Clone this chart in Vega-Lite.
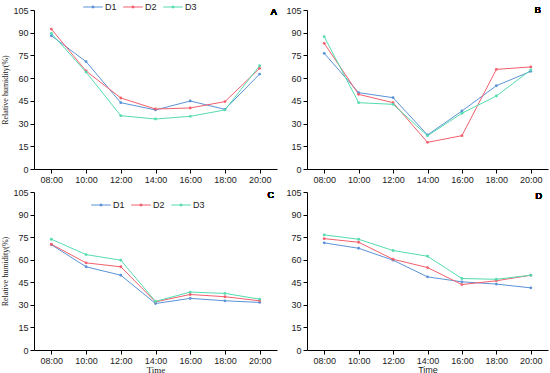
{
  "$schema": "https://vega.github.io/schema/vega-lite/v6.json",
  "padding": {"left": 1, "top": 0, "right": 2, "bottom": 0},
  "background": "white",
  "config": {
    "view": {"stroke": null},
    "font": "Liberation Sans",
    "axis": {"domainColor": "#000", "tickColor": "#000", "labelColor": "#222", "labelFontSize": 9, "grid": false, "tickSize": 4, "labelPadding": 2, "titleFontWeight": "normal", "titleFontSize": 8, "titleColor": "#222", "labelFont": "Liberation Sans", "titleFont": "Liberation Serif"},
    "legend": {"labelFontSize": 9, "labelColor": "#222", "labelFont": "Liberation Sans"}
  },
  "data": {"values": [
    {"p":"A","t":"08:00","s":"D1","v":88},{"p":"A","t":"10:00","s":"D1","v":70.9},{"p":"A","t":"12:00","s":"D1","v":43.8},{"p":"A","t":"14:00","s":"D1","v":39},{"p":"A","t":"16:00","s":"D1","v":44.9},{"p":"A","t":"18:00","s":"D1","v":39.4},{"p":"A","t":"20:00","s":"D1","v":62.7},
    {"p":"A","t":"08:00","s":"D2","v":92.4},{"p":"A","t":"10:00","s":"D2","v":64.7},{"p":"A","t":"12:00","s":"D2","v":46.9},{"p":"A","t":"14:00","s":"D2","v":39.6},{"p":"A","t":"16:00","s":"D2","v":40.3},{"p":"A","t":"18:00","s":"D2","v":44.5},{"p":"A","t":"20:00","s":"D2","v":66.5},
    {"p":"A","t":"08:00","s":"D3","v":89.6},{"p":"A","t":"10:00","s":"D3","v":64},{"p":"A","t":"12:00","s":"D3","v":35.2},{"p":"A","t":"14:00","s":"D3","v":33},{"p":"A","t":"16:00","s":"D3","v":34.8},{"p":"A","t":"18:00","s":"D3","v":39},{"p":"A","t":"20:00","s":"D3","v":68.2},
    {"p":"B","t":"08:00","s":"D1","v":76.4},{"p":"B","t":"10:00","s":"D1","v":50.4},{"p":"B","t":"12:00","s":"D1","v":47.1},{"p":"B","t":"14:00","s":"D1","v":22.5},{"p":"B","t":"16:00","s":"D1","v":38.3},{"p":"B","t":"18:00","s":"D1","v":55},{"p":"B","t":"20:00","s":"D1","v":64.5},
    {"p":"B","t":"08:00","s":"D2","v":83},{"p":"B","t":"10:00","s":"D2","v":49.3},{"p":"B","t":"12:00","s":"D2","v":43.8},{"p":"B","t":"14:00","s":"D2","v":17.6},{"p":"B","t":"16:00","s":"D2","v":22},{"p":"B","t":"18:00","s":"D2","v":65.8},{"p":"B","t":"20:00","s":"D2","v":67.4},
    {"p":"B","t":"08:00","s":"D3","v":87.4},{"p":"B","t":"10:00","s":"D3","v":43.8},{"p":"B","t":"12:00","s":"D3","v":42.7},{"p":"B","t":"14:00","s":"D3","v":22},{"p":"B","t":"16:00","s":"D3","v":36.8},{"p":"B","t":"18:00","s":"D3","v":48.2},{"p":"B","t":"20:00","s":"D3","v":65.4},
    {"p":"C","t":"08:00","s":"D1","v":70},{"p":"C","t":"10:00","s":"D1","v":55.3},{"p":"C","t":"12:00","s":"D1","v":49.7},{"p":"C","t":"14:00","s":"D1","v":30.9},{"p":"C","t":"16:00","s":"D1","v":34.3},{"p":"C","t":"18:00","s":"D1","v":32.7},{"p":"C","t":"20:00","s":"D1","v":31.6},
    {"p":"C","t":"08:00","s":"D2","v":70.3},{"p":"C","t":"10:00","s":"D2","v":57.9},{"p":"C","t":"12:00","s":"D2","v":55.3},{"p":"C","t":"14:00","s":"D2","v":32},{"p":"C","t":"16:00","s":"D2","v":36.9},{"p":"C","t":"18:00","s":"D2","v":35.4},{"p":"C","t":"20:00","s":"D2","v":32.7},
    {"p":"C","t":"08:00","s":"D3","v":73.6},{"p":"C","t":"10:00","s":"D3","v":63.4},{"p":"C","t":"12:00","s":"D3","v":59.7},{"p":"C","t":"14:00","s":"D3","v":32.3},{"p":"C","t":"16:00","s":"D3","v":38.5},{"p":"C","t":"18:00","s":"D3","v":37.6},{"p":"C","t":"20:00","s":"D3","v":33.8},
    {"p":"D","t":"08:00","s":"D1","v":71.2},{"p":"D","t":"10:00","s":"D1","v":67.6},{"p":"D","t":"12:00","s":"D1","v":59.7},{"p":"D","t":"14:00","s":"D1","v":48.6},{"p":"D","t":"16:00","s":"D1","v":45.3},{"p":"D","t":"18:00","s":"D1","v":43.8},{"p":"D","t":"20:00","s":"D1","v":41.3},
    {"p":"D","t":"08:00","s":"D2","v":74},{"p":"D","t":"10:00","s":"D2","v":71.6},{"p":"D","t":"12:00","s":"D2","v":60.3},{"p":"D","t":"14:00","s":"D2","v":54.8},{"p":"D","t":"16:00","s":"D2","v":43.5},{"p":"D","t":"18:00","s":"D2","v":46},{"p":"D","t":"20:00","s":"D2","v":49.7},
    {"p":"D","t":"08:00","s":"D3","v":76.5},{"p":"D","t":"10:00","s":"D3","v":73.6},{"p":"D","t":"12:00","s":"D3","v":66.1},{"p":"D","t":"14:00","s":"D3","v":62.3},{"p":"D","t":"16:00","s":"D3","v":47.5},{"p":"D","t":"18:00","s":"D3","v":47},{"p":"D","t":"20:00","s":"D3","v":49.7}
  ]},
  "columns": 2,
  "bounds": "flush",
  "spacing": {"row": 23, "column": 30},
  "resolve": {"legend": {"color": "independent"}},
  "concat": [
    {
      "width": 243, "height": 159,
      "transform": [{"filter": "datum.p === 'A'"}],
      "encoding": {
        "x": {"field": "t", "type": "ordinal", "scale": {"type": "point", "padding": 0.5}, "axis": {"title": null, "labelAngle": 0}},
        "y": {"field": "v", "type": "quantitative", "scale": {"domain": [0, 105], "nice": false}, "axis": {"values": [0,15,30,45,60,75,90,105], "title": "Relative humidity(%)", "titlePadding": 3}}
      },
      "layer": [
        {
          "mark": {"type": "line", "point": {"filled": true, "size": 8}, "strokeWidth": 1},
          "encoding": {
            "color": {"field": "s", "type": "nominal", "scale": {"domain": ["D1","D2","D3"], "range": ["#5b93d8","#f2606c","#55dbb0"]},
              "legend": {"title": null, "orient": "none", "direction": "horizontal", "legendX": 52, "legendY": -10, "symbolType": "M-1.6,0L1.6,0M-0.18,0A0.18,0.18 0 1,0 0.18,0A0.18,0.18 0 1,0 -0.18,0", "symbolSize": 150, "symbolStrokeWidth": 1, "columnPadding": 4, "labelOffset": 5}}
          }
        },
        {
          "mark": {"type": "text", "text": "A", "dx": 14, "dy": 2, "font": "Liberation Sans", "fontSize": 9, "fontWeight": "normal", "color": "#000", "baseline": "middle", "align": "center"},
          "encoding": {"x": {"datum": "20:00"}, "y": {"datum": 105}}
        }
      ]
    },
    {
      "width": 241, "height": 159,
      "transform": [{"filter": "datum.p === 'B'"}],
      "encoding": {
        "x": {"field": "t", "type": "ordinal", "scale": {"type": "point", "padding": 0.5}, "axis": {"title": null, "labelAngle": 0}},
        "y": {"field": "v", "type": "quantitative", "scale": {"domain": [0, 105], "nice": false}, "axis": {"values": [0,15,30,45,60,75,90,105], "title": null}}
      },
      "layer": [
        {
          "mark": {"type": "line", "point": {"filled": true, "size": 8}, "strokeWidth": 1},
          "encoding": {"color": {"field": "s", "type": "nominal", "legend": null}}
        },
        {
          "mark": {"type": "text", "text": "B", "dx": 7, "dy": 0, "font": "Liberation Sans", "fontSize": 9, "fontWeight": "normal", "color": "#000", "baseline": "middle", "align": "center"},
          "encoding": {"x": {"datum": "20:00"}, "y": {"datum": 105}}
        }
      ]
    },
    {
      "width": 243, "height": 158,
      "transform": [{"filter": "datum.p === 'C'"}],
      "encoding": {
        "x": {"field": "t", "type": "ordinal", "scale": {"type": "point", "padding": 0.5}, "axis": {"title": "Time", "labelAngle": 0, "titleFontSize": 9, "titlePadding": 0}},
        "y": {"field": "v", "type": "quantitative", "scale": {"domain": [0, 105], "nice": false}, "axis": {"values": [0,15,30,45,60,75,90,105], "title": "Relative humidity(%)", "titlePadding": 3}}
      },
      "layer": [
        {
          "mark": {"type": "line", "point": {"filled": true, "size": 8}, "strokeWidth": 1},
          "encoding": {
            "color": {"field": "s", "type": "nominal",
              "legend": {"title": null, "orient": "none", "direction": "horizontal", "legendX": 60, "legendY": 6, "symbolType": "M-1.6,0L1.6,0M-0.18,0A0.18,0.18 0 1,0 0.18,0A0.18,0.18 0 1,0 -0.18,0", "symbolSize": 150, "symbolStrokeWidth": 1, "columnPadding": 4, "labelOffset": 5}}
          }
        },
        {
          "mark": {"type": "text", "text": "C", "dx": 11, "dy": 3, "font": "Liberation Sans", "fontSize": 9, "fontWeight": "normal", "color": "#000", "baseline": "middle", "align": "center"},
          "encoding": {"x": {"datum": "20:00"}, "y": {"datum": 105}}
        }
      ]
    },
    {
      "width": 241, "height": 158,
      "transform": [{"filter": "datum.p === 'D'"}],
      "encoding": {
        "x": {"field": "t", "type": "ordinal", "scale": {"type": "point", "padding": 0.5}, "axis": {"title": "Time", "labelAngle": 0, "titleFontSize": 9, "titlePadding": 0, "titleFont": "Liberation Sans"}},
        "y": {"field": "v", "type": "quantitative", "scale": {"domain": [0, 105], "nice": false}, "axis": {"values": [0,15,30,45,60,75,90,105], "title": null}}
      },
      "layer": [
        {
          "mark": {"type": "line", "point": {"filled": true, "size": 8}, "strokeWidth": 1},
          "encoding": {"color": {"field": "s", "type": "nominal", "legend": null}}
        },
        {
          "mark": {"type": "text", "text": "D", "dx": 8, "dy": 4, "font": "Liberation Sans", "fontSize": 9, "fontWeight": "normal", "color": "#000", "baseline": "middle", "align": "center"},
          "encoding": {"x": {"datum": "20:00"}, "y": {"datum": 105}}
        }
      ]
    }
  ]
}
